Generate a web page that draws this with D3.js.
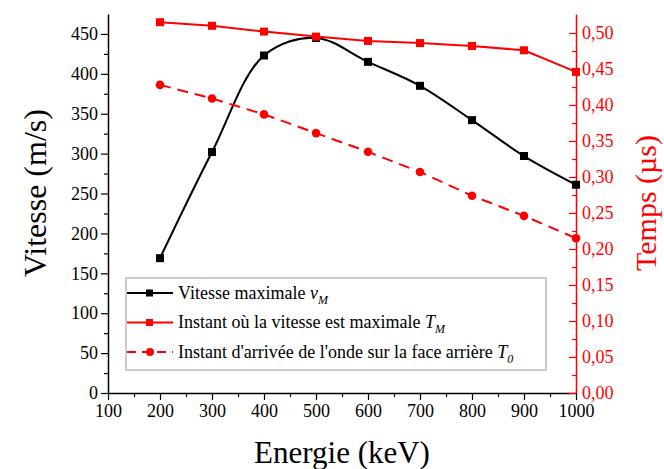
<!DOCTYPE html>
<html><head><meta charset="utf-8">
<script src="https://cdn.jsdelivr.net/npm/d3@7"></script>
<style>body{margin:0;background:#fff}svg{display:block}</style>
</head><body>
<svg id="c" width="664" height="469"></svg>
<script>
const energies = [200,300,400,500,600,700,800,900,1000];
const vitesse = [169,302,423,445,415,385,342,297,261];
const tempsMax = [0.515,0.510,0.502,0.495,0.489,0.486,0.482,0.476,0.446];
const tempsArrivee = [0.428,0.409,0.387,0.361,0.335,0.307,0.274,0.246,0.215];
const xTicks = [100,200,300,400,500,600,700,800,900,1000];
const yLeftTicks = [0,50,100,150,200,250,300,350,400,450];
const yRightTicks = [0,0.05,0.10,0.15,0.20,0.25,0.30,0.35,0.40,0.45,0.50];

const svg = d3.select("#c");
const L=108,R=576,T=14,B=393;
const x = d3.scaleLinear().domain([100,1000]).range([L,R]);
const yL = d3.scaleLinear().domain([0,475]).range([B,T]);
const yR = d3.scaleLinear().domain([0,0.5264]).range([B,T]);
const red = "#ff0000";

// bottom axis
const gx = svg.append("g").attr("transform",`translate(0,${B})`);
gx.call(d3.axisBottom(x).tickValues(d3.range(150,1000,100)).tickSize(4).tickFormat(""));
gx.call(g=>g.select(".domain").remove());
const gx2 = svg.append("g").attr("transform",`translate(0,${B})`)
  .call(d3.axisBottom(x).tickValues(xTicks).tickSize(7).tickSizeOuter(0).tickPadding(4).tickFormat(d3.format("d")));
gx2.selectAll("text").attr("font-size",18).attr("fill","#000");
gx.selectAll("line").attr("stroke","#000").attr("stroke-width",1.2);
gx2.selectAll("line").attr("stroke","#000").attr("stroke-width",1.2);
gx2.select(".domain").attr("stroke","#000").attr("stroke-width",1.5);

// left axis
const gl = svg.append("g").attr("transform",`translate(${L},0)`);
gl.call(d3.axisLeft(yL).tickValues(d3.range(25,475,50)).tickSize(4).tickFormat(""));
gl.call(g=>g.select(".domain").remove());
const gl2 = svg.append("g").attr("transform",`translate(${L},0)`)
  .call(d3.axisLeft(yL).tickValues(yLeftTicks).tickSize(7).tickSizeOuter(0).tickPadding(3).tickFormat(d3.format("d")));
gl2.selectAll("text").attr("font-size",18).attr("fill","#000");
gl.selectAll("line").attr("stroke","#000").attr("stroke-width",1.2);
gl2.selectAll("line").attr("stroke","#000").attr("stroke-width",1.2);
gl2.select(".domain").attr("stroke","#000").attr("stroke-width",1.5);

// right axis (ticks inward)
const fmtR = v => d3.format(".2f")(v).replace(".",",");
const gr = svg.append("g").attr("transform",`translate(${R},0)`);
gr.call(d3.axisLeft(yR).tickValues(d3.range(0.025,0.525,0.05)).tickSize(4).tickFormat(""));
gr.call(g=>g.select(".domain").remove());
const gr2 = svg.append("g").attr("transform",`translate(${R},0)`)
  .call(d3.axisLeft(yR).tickValues(yRightTicks).tickSize(7).tickSizeOuter(0).tickFormat(fmtR));
gr2.selectAll("text").attr("font-size",18).attr("fill",red).attr("text-anchor","start").attr("x",6);
gr.selectAll("line").attr("stroke",red).attr("stroke-width",1.2);
gr2.selectAll("line").attr("stroke",red).attr("stroke-width",1.2);
gr2.select(".domain").attr("stroke",red).attr("stroke-width",1.5);

// axis titles
svg.append("text").attr("x",342).attr("y",463).attr("text-anchor","middle").attr("font-size",31).text("Energie (keV)");
svg.append("text").attr("transform",`translate(46,193) rotate(-90)`).attr("text-anchor","middle").attr("font-size",32).text("Vitesse (m/s)");
svg.append("text").attr("transform",`translate(656,203) rotate(-90)`).attr("text-anchor","middle").attr("font-size",30).attr("fill",red).text("Temps (µs)");

// series
const lineV = d3.line().x((d,i)=>x(energies[i])).y(d=>yL(d)).curve(d3.curveCatmullRom.alpha(0.5));
svg.append("path").datum(vitesse).attr("d",lineV).attr("fill","none").attr("stroke","#000").attr("stroke-width",2);
svg.selectAll(".mv").data(vitesse).enter().append("rect")
  .attr("x",(d,i)=>x(energies[i])-4).attr("y",d=>yL(d)-4).attr("width",8).attr("height",8).attr("fill","#000");

const lineR = d3.line().x((d,i)=>x(energies[i])).y(d=>yR(d));
svg.append("path").datum(tempsMax).attr("d",lineR).attr("fill","none").attr("stroke",red).attr("stroke-width",2);
svg.selectAll(".mt").data(tempsMax).enter().append("rect")
  .attr("x",(d,i)=>x(energies[i])-4).attr("y",d=>yR(d)-4).attr("width",8).attr("height",8).attr("fill",red);

svg.append("path").datum(tempsArrivee).attr("d",lineR).attr("fill","none").attr("stroke",red).attr("stroke-width",2).attr("stroke-dasharray","11,7");
svg.selectAll(".ma").data(tempsArrivee).enter().append("circle")
  .attr("cx",(d,i)=>x(energies[i])).attr("cy",d=>yR(d)).attr("r",4.3).attr("fill",red);

// legend
const lg = svg.append("g");
lg.append("rect").attr("x",126).attr("y",278).attr("width",420).attr("height",92).attr("fill","#fff").attr("stroke","#999").attr("stroke-width",1);
const items = [
  {c:"#000",dash:null,m:"sq",t:"Vitesse maximale ",s:"v",sub:"M"},
  {c:red,dash:null,m:"sq",t:"Instant où la vitesse est maximale ",s:"T",sub:"M"},
  {c:red,dash:"9,6",m:"ci",t:"Instant d'arrivée de l'onde sur la face arrière ",s:"T",sub:"0"}
];
items.forEach((it,i)=>{
  const yy = 293 + i*29.5;
  lg.append("line").attr("x1",127).attr("x2",173).attr("y1",yy).attr("y2",yy).attr("stroke",it.c).attr("stroke-width",2).attr("stroke-dasharray",it.dash);
  if(it.m==="sq") lg.append("rect").attr("x",146).attr("y",yy-3.5).attr("width",7).attr("height",7).attr("fill",it.c);
  else lg.append("circle").attr("cx",150).attr("cy",yy).attr("r",4).attr("fill",it.c);
  const t = lg.append("text").attr("x",178).attr("y",yy+5.5).attr("font-size",18).attr("fill","#000");
  t.append("tspan").text(it.t);
  t.append("tspan").attr("font-style","italic").text(it.s);
  t.append("tspan").attr("font-style","italic").attr("font-size",12).attr("dy",5).text(it.sub);
});
svg.selectAll("text").attr("font-family",null).style("font-family","'Liberation Serif', 'DejaVu Serif', serif");
</script>
</body></html>
